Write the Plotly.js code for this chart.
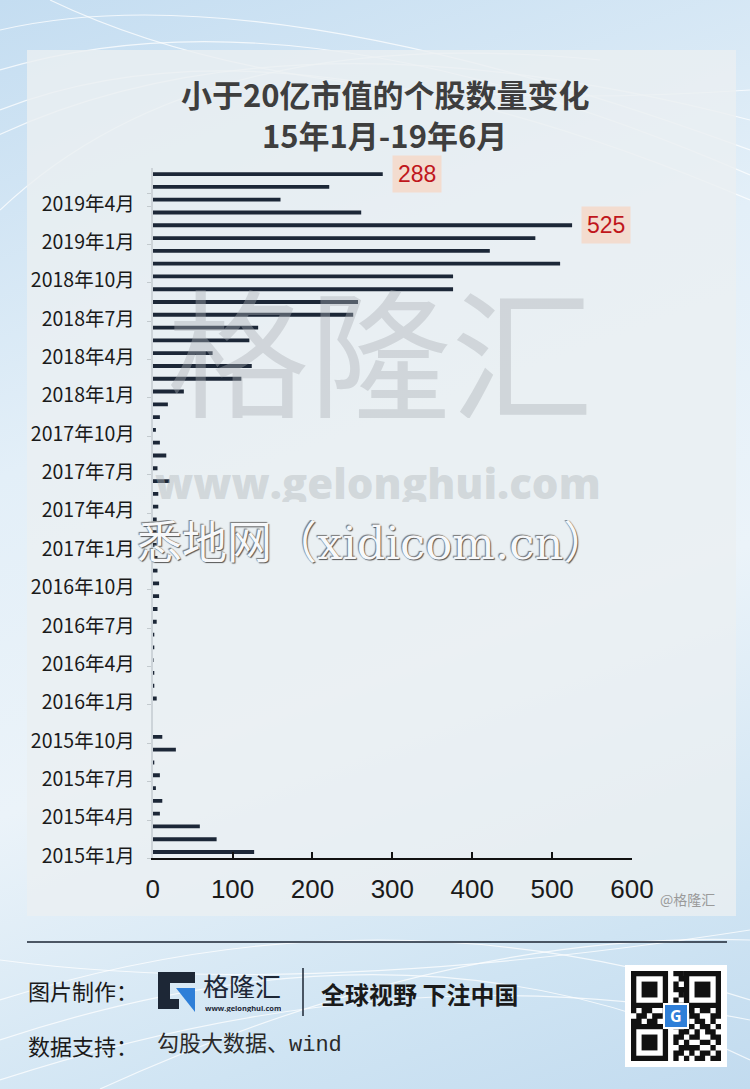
<!DOCTYPE html>
<html>
<head>
<meta charset="utf-8">
<script src="https://cdn.plot.ly/plotly-3.0.1.min.js"></script>
<style>
  html, body { margin:0; padding:0; }
  body { width:750px; height:1089px; overflow:hidden;
    background: linear-gradient(160deg, #c4ddf1 0%, #e3eff8 35%, #ebf3f9 60%, #cfe4f3 85%, #c2dbef 100%); }
  #chart { width:750px; height:1089px; }
</style>
</head>
<body>
<div id="chart"></div>
<script>
// ---------- data ----------
const months = [
  "2015年1月","2015年2月","2015年3月","2015年4月","2015年5月","2015年6月",
  "2015年7月","2015年8月","2015年9月","2015年10月","2015年11月","2015年12月",
  "2016年1月","2016年2月","2016年3月","2016年4月","2016年5月","2016年6月",
  "2016年7月","2016年8月","2016年9月","2016年10月","2016年11月","2016年12月",
  "2017年1月","2017年2月","2017年3月","2017年4月","2017年5月","2017年6月",
  "2017年7月","2017年8月","2017年9月","2017年10月","2017年11月","2017年12月",
  "2018年1月","2018年2月","2018年3月","2018年4月","2018年5月","2018年6月",
  "2018年7月","2018年8月","2018年9月","2018年10月","2018年11月","2018年12月",
  "2019年1月","2019年2月","2019年3月","2019年4月","2019年5月","2019年6月"
];
const counts = [
  127, 80, 59, 9, 12, 4, 9, 2, 29, 12, 0, 0,
  5, 2, 2, 1, 2, 2, 5, 6, 8, 8, 6, 6,
  5, 5, 5, 7, 7, 21, 6, 17, 9, 4, 9, 19,
  39, 111, 124, 75, 121, 132, 251, 257, 376, 376, 510, 422,
  479, 525, 261, 160, 221, 288
];
const tickLabels = [
  "2015年1月","2015年4月","2015年7月","2015年10月",
  "2016年1月","2016年4月","2016年7月","2016年10月",
  "2017年1月","2017年4月","2017年7月","2017年10月",
  "2018年1月","2018年4月","2018年7月","2018年10月",
  "2019年1月","2019年4月"
];
const xTicks = [0, 100, 200, 300, 400, 500, 600];
const highlighted = ["2019年6月", "2019年2月"];
const titleLines = ["小于20亿市值的个股数量变化", "15年1月-19年6月"];

// ---------- helpers (page pixel -> paper) ----------
const W = 750, H = 1089;
const X = p => p / W;
const Y = p => 1 - p / H;
const P = s => s.replace(/(-?[\d.]+),(-?[\d.]+)/g, (m, a, b) => X(+a).toFixed(5) + ',' + Y(+b).toFixed(5));
const CJK = '"Noto Sans CJK SC", "Noto Sans", sans-serif';

const shapes = [];
// background waves
const waves = [
  "M0,30 Q260,-30 750,150", "M0,70 Q300,-20 750,175", "M0,110 Q280,0 750,200",
  "M-50,160 Q250,-10 750,120", "M0,210 Q200,20 600,60", "M50,0 Q300,120 750,90",
  "M0,1000 Q380,880 750,1000", "M0,1040 Q420,900 750,1060", "M0,1080 Q400,950 750,1020",
  "M100,1089 Q450,930 750,940", "M0,960 Q300,1000 750,930"
];
waves.forEach(w => shapes.push({type:'path', xref:'paper', yref:'paper', path:P(w),
  line:{color:'rgba(255,255,255,0.75)', width:1.2}, layer:'below'}));
// panel
shapes.push({type:'rect', xref:'paper', yref:'paper', x0:X(27), x1:X(736), y0:Y(916), y1:Y(50),
  fillcolor:'rgba(234,239,242,0.82)', line:{width:0}, layer:'below'});
// footer rule and separator
shapes.push({type:'line', xref:'paper', yref:'paper', x0:X(27), x1:X(727), y0:Y(942), y1:Y(942),
  line:{color:'#1b2533', width:1.5}});
shapes.push({type:'line', xref:'paper', yref:'paper', x0:X(303), x1:X(303), y0:Y(968), y1:Y(1016),
  line:{color:'#1b2533', width:1.5}});
// logo G
shapes.push({type:'path', xref:'paper', yref:'paper',
  path:P("M158,972 L195,972 L195,983 L170,983 L170,999 L179,999 L179,1009 L158,1009 Z"),
  fillcolor:'#1d2736', line:{width:0}});
shapes.push({type:'path', xref:'paper', yref:'paper',
  path:P("M176,988 L195,988 L195,1012 Z"), fillcolor:'#2f7fd8', line:{width:0}});
// QR placeholder
shapes.push({type:'rect', xref:'paper', yref:'paper', x0:X(625), x1:X(727), y0:Y(1067), y1:Y(965),
  fillcolor:'#ffffff', line:{width:0}});
const qrRows = [
  "00000000110000000","00000000011000000","00000000100000000","00000000111000000",
  "00000000010000000","00000000101000000","00000000010000000","10110011001101101",
  "01101100110110011","11011000001011010","00000000101101101","00000000011010110",
  "00000000110110011","00000000101001101","00000000011110010","00000000110101101",
  "00000000101011011"
];
const m = 90 / 17, qx = 631, qy = 971;
let qp = "";
qrRows.forEach((row, r) => row.split("").forEach((c, k) => {
  if (c === "1") {
    const x0 = qx + k * m, y0 = qy + r * m;
    qp += `M${x0},${y0} L${x0 + m},${y0} L${x0 + m},${y0 + m} L${x0},${y0 + m} Z `;
  }
}));
shapes.push({type:'path', xref:'paper', yref:'paper', path:P(qp), fillcolor:'#111', line:{width:0}});
[[0,0],[10,0],[0,10]].forEach(([c, r]) => {
  const x0 = qx + c * m, y0 = qy + r * m;
  shapes.push({type:'rect', xref:'paper', yref:'paper', x0:X(x0), x1:X(x0 + 7*m), y0:Y(y0 + 7*m), y1:Y(y0), fillcolor:'#111', line:{width:0}});
  shapes.push({type:'rect', xref:'paper', yref:'paper', x0:X(x0 + m), x1:X(x0 + 6*m), y0:Y(y0 + 6*m), y1:Y(y0 + m), fillcolor:'#fff', line:{width:0}});
  shapes.push({type:'rect', xref:'paper', yref:'paper', x0:X(x0 + 2*m), x1:X(x0 + 5*m), y0:Y(y0 + 5*m), y1:Y(y0 + 2*m), fillcolor:'#111', line:{width:0}});
});
shapes.push({type:'rect', xref:'paper', yref:'paper', x0:X(664), x1:X(688), y0:Y(1028), y1:Y(1004),
  fillcolor:'#2f7fd8', line:{color:'#fff', width:2}});

// ---------- annotations ----------
const annotations = [];
// titles
annotations.push({xref:'paper', yref:'paper', x:X(385), y:Y(93), text:titleLines[0], showarrow:false,
  xanchor:'center', yanchor:'middle', height:36,
  font:{family:CJK, size:31, weight:700, color:'#3e3e3e'}});
annotations.push({xref:'paper', yref:'paper', x:X(384), y:Y(134), text:titleLines[1], showarrow:false,
  xanchor:'center', yanchor:'middle', height:36,
  font:{family:CJK, size:31, weight:700, color:'#3e3e3e'}});
// watermarks
annotations.push({xref:'paper', yref:'paper', x:X(380), y:Y(348), text:'格隆汇', showarrow:false,
  height:140,
  font:{family:CJK, size:142, color:'rgba(170,176,181,0.40)'}, xanchor:'center', yanchor:'middle'});
annotations.push({xref:'paper', yref:'paper', x:X(378), y:Y(482), text:'www.gelonghui.com', showarrow:false,
  height:40,
  font:{family:'"Open Sans", sans-serif', size:42, weight:800, color:'rgba(180,186,190,0.45)'}, xanchor:'center', yanchor:'middle'});
annotations.push({xref:'paper', yref:'paper', x:X(372), y:Y(543), text:'悉地网（xidicom.cn）', showarrow:false,
  height:46,
  font:{family:'"DejaVu Serif", "Noto Sans CJK SC", serif', size:45, color:'#f7f8fa',
        shadow:'1px 1px 1px #555, -1px -1px 1px #777'}, xanchor:'center', yanchor:'middle'});
// highlighted values
highlighted.forEach(mo => {
  const i = months.indexOf(mo);
  annotations.push({xref:'x', yref:'y', x:counts[i], y:mo, text:String(counts[i]), showarrow:false,
    xanchor:'left', yanchor:'middle', xshift:9, bgcolor:'#f3dccf', borderpad:5,
    font:{family:'"Liberation Sans", Arial, sans-serif', size:23, color:'#c0161c'}});
});
// footer text
annotations.push({xref:'paper', yref:'paper', x:X(658), y:Y(899), text:'@格隆汇', showarrow:false,
  xanchor:'left', yanchor:'middle', font:{family:CJK, size:14, color:'#9a9a9a'}});
annotations.push({xref:'paper', yref:'paper', x:X(26), y:Y(990), text:'图片制作：', showarrow:false,
  xanchor:'left', yanchor:'middle', font:{family:CJK, size:22, color:'#1a1a1a'}});
annotations.push({xref:'paper', yref:'paper', x:X(201), y:Y(985), text:'格隆汇', showarrow:false,
  xanchor:'left', yanchor:'middle', height:26, font:{family:CJK, size:26, color:'#1d2736'}});
annotations.push({xref:'paper', yref:'paper', x:X(203), y:Y(1007.5), text:'www.gelonghui.com', showarrow:false,
  xanchor:'left', yanchor:'middle', height:9, font:{family:'"Open Sans", sans-serif', size:7.5, weight:700, color:'#1d2736'}});
annotations.push({xref:'paper', yref:'paper', x:X(319), y:Y(993), text:'全球视野 下注中国', showarrow:false,
  xanchor:'left', yanchor:'middle', font:{family:CJK, size:24, weight:700, color:'#1a1a1a'}});
annotations.push({xref:'paper', yref:'paper', x:X(26), y:Y(1045), text:'数据支持：', showarrow:false,
  xanchor:'left', yanchor:'middle', font:{family:CJK, size:22, color:'#1a1a1a'}});
annotations.push({xref:'paper', yref:'paper', x:X(155), y:Y(1045), text:'勾股大数据、wind', showarrow:false,
  xanchor:'left', yanchor:'middle', font:{family:'"Liberation Mono", "Noto Sans CJK SC", monospace', size:22, color:'#2a2a2a'}});
annotations.push({xref:'paper', yref:'paper', x:X(676), y:Y(1016), text:'<b>G</b>', showarrow:false,
  xanchor:'center', yanchor:'middle', font:{family:'"Open Sans", sans-serif', size:16, color:'#ffffff'}});

// ---------- chart ----------
const trace = {
  type:'bar', orientation:'h', y:months, x:counts,
  marker:{color:'#1c2737'}, hoverinfo:'skip'
};

const layout = {
  width:W, height:H,
  margin:{l:0, r:0, t:0, b:0},
  paper_bgcolor:'rgba(0,0,0,0)', plot_bgcolor:'rgba(0,0,0,0)',
  showlegend:false,
  bargap:0.7,
  xaxis:{
    domain:[X(152.7), X(632)], range:[0, 600],
    tickmode:'array', tickvals:xTicks, ticktext:xTicks.map(String),
    showline:true, linecolor:'#111', linewidth:2,
    ticks:'inside', ticklen:6, tickwidth:2, tickcolor:'#111',
    showgrid:false, zeroline:false, fixedrange:true,
    ticklabelstandoff:6,
    tickfont:{family:'"Liberation Sans Narrow", "Liberation Sans", Arial, sans-serif', size:26, color:'#1a1a1a'}
  },
  yaxis:{
    type:'category', domain:[Y(858.4), Y(167.7)], range:[-0.5, months.length - 0.5],
    tickmode:'array', tickvals:tickLabels, ticktext:tickLabels,
    showline:true, linecolor:'#cdd4d9', linewidth:2,
    ticks:'outside', ticklen:4, tickwidth:1, tickcolor:'#c3cace', tickson:'boundaries',
    showgrid:false, zeroline:false, fixedrange:true,
    ticklabelstandoff:12, ticklabelshift:4,
    tickfont:{family:CJK, size:19.5, color:'#1a1a1a'}
  },
  shapes:shapes,
  annotations:annotations
};

Plotly.newPlot('chart', [trace], layout, {displayModeBar:false, staticPlot:true});
</script>
</body>
</html>
